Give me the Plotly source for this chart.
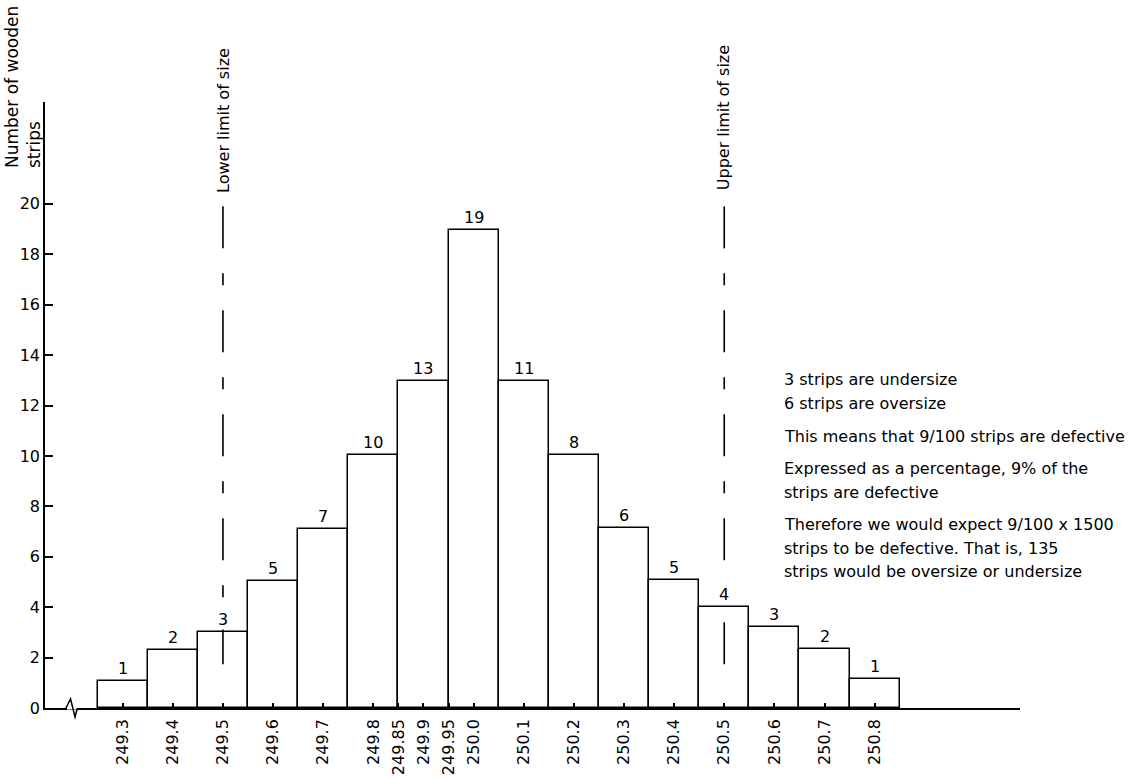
import plotly.graph_objects as go

# ---- data ----
size_mm = [249.3, 249.4, 249.5, 249.6, 249.7, 249.8, 249.9, 250.0,
           250.1, 250.2, 250.3, 250.4, 250.5, 250.6, 250.7, 250.8]
bar_heights = [1.07, 2.29, 3.02, 5.03, 7.11, 10.04, 12.98, 18.95,
               12.98, 10.04, 7.13, 5.08, 4.0, 3.21, 2.36, 1.15]
bar_labels = ["1", "2", "3", "5", "7", "10", "13", "19",
              "11", "8", "6", "5", "4", "3", "2", "1"]
tick_values = [249.3, 249.4, 249.5, 249.6, 249.7, 249.8, 249.85, 249.9, 249.95,
               250.0, 250.1, 250.2, 250.3, 250.4, 250.5, 250.6, 250.7, 250.8]
tick_labels = ["249.3", "249.4", "249.5", "249.6", "249.7", "249.8", "249.85",
               "249.9", "249.95", "250.0", "250.1", "250.2", "250.3", "250.4",
               "250.5", "250.6", "250.7", "250.8"]
y_ticks = [0, 2, 4, 6, 8, 10, 12, 14, 16, 18, 20]
lower_limit = 249.5
upper_limit = 250.5
limit_line_top = 19.9
limit_line_bottom = 1.1
note_lines = ["3 strips are undersize", "6 strips are oversize",
              "This means that 9/100 strips are defective",
              "Expressed as a percentage, 9% of the", "strips are defective",
              "Therefore we would expect 9/100 x 1500",
              "strips to be defective. That is, 135",
              "strips would be oversize or undersize"]
note_y_px = [379, 403, 436, 469, 492, 524, 548, 571]

FONT = "DejaVu Sans, Verdana, sans-serif"

# layout geometry (page pixels; body margin removed below)
W, H = 1148, 779
PLOT_L, PLOT_R, PLOT_T, PLOT_B = 45, 1020, 102, 708
ML, MT = PLOT_L, PLOT_T
MR, MB = W - PLOT_R, H - PLOT_B
PW = PLOT_R - PLOT_L
PH = PLOT_B - PLOT_T


def px_x(p):
    return (p - PLOT_L) / PW


def px_y(p):
    return (PLOT_B - p) / PH


fig = go.Figure()
fig.add_trace(go.Bar(
    x=size_mm, y=bar_heights, width=0.1,
    marker=dict(color="white", line=dict(color="black", width=1.5)),
    showlegend=False, hoverinfo="skip",
))

annotations = []
for xv, hv, lab in zip(size_mm, bar_heights, bar_labels):
    annotations.append(dict(
        x=xv, y=hv, text=lab, showarrow=False, xref="x", yref="y",
        xanchor="center", yanchor="bottom", yshift=2, bgcolor="white", borderpad=0,
        font=dict(family=FONT, size=16, color="black"),
    ))

shapes = []
for lim in (lower_limit, upper_limit):
    shapes.append(dict(
        type="line", xref="x", yref="y", x0=lim, x1=lim,
        y0=limit_line_top, y1=limit_line_bottom, layer="above",
        line=dict(color="black", width=1.6, dash="42px,25px,12px,25px"),
    ))

annotations.append(dict(
    x=lower_limit, y=px_y(120), xref="x", yref="paper", text="Lower limit of size",
    xanchor="center", yanchor="middle",
    textangle=-90, showarrow=False, font=dict(family=FONT, size=16, color="black"),
))
annotations.append(dict(
    x=upper_limit, y=px_y(118), xref="x", yref="paper", text="Upper limit of size",
    xanchor="center", yanchor="middle",
    textangle=-90, showarrow=False, font=dict(family=FONT, size=16, color="black"),
))

for txt, yp in zip(note_lines, note_y_px):
    annotations.append(dict(
        x=px_x(782), y=px_y(yp), xref="paper", yref="paper", text=txt,
        xanchor="left", yanchor="middle", showarrow=False,
        font=dict(family=FONT, size=16, color="black"),
    ))

annotations.append(dict(
    x=px_x(23), y=px_y(87), xref="paper", yref="paper",
    text="Number of wooden<br>strips", textangle=-90, align="left",
    xanchor="center", yanchor="middle",
    showarrow=False, font=dict(family=FONT, size=17, color="black"),
))

# axis break symbol
shapes.append(dict(type="line", xref="paper", yref="paper",
                   x0=px_x(67), x1=px_x(77.5), y0=0, y1=0,
                   line=dict(color="white", width=3)))
shapes.append(dict(
    type="path", xref="paper", yref="paper",
    path="M {:.4f},{:.4f} L {:.4f},{:.4f} L {:.4f},{:.4f} L {:.4f},{:.4f}".format(
        px_x(66), px_y(708), px_x(70.5), px_y(699), px_x(75), px_y(717),
        px_x(77.5), px_y(708)),
    line=dict(color="black", width=1.5),
))

fig.update_layout(
    width=W, height=H,
    margin=dict(l=ML, r=MR, t=MT, b=MB, pad=0, autoexpand=False),
    paper_bgcolor="white", plot_bgcolor="white",
    bargap=0,
    annotations=annotations, shapes=shapes,
    font=dict(family=FONT, size=16, color="black"),
    xaxis=dict(
        range=[249.145, 251.09], showgrid=False, zeroline=False, automargin=False,
        showline=True, linecolor="black", linewidth=1.5,
        tickmode="array", tickvals=tick_values, ticktext=tick_labels,
        ticks="inside", ticklen=5, tickwidth=1.5, tickcolor="black",
        ticklabelstandoff=3,
        tickangle=-90, tickfont=dict(family=FONT, size=16, color="black"),
    ),
    yaxis=dict(
        range=[0, 24.04], showgrid=False, zeroline=False, automargin=False,
        showline=True, linecolor="black", linewidth=1.5,
        tickmode="array", tickvals=y_ticks,
        ticks="inside", ticklen=8, tickwidth=1.5, tickcolor="black",
        tickfont=dict(family=FONT, size=16, color="black"),
    ),
)

fig.write_html(
    "out.html",
    config={"displayModeBar": False},
    post_script="document.body.style.margin='0';document.body.style.padding='0';"
                "document.body.style.overflow='hidden';",
)
